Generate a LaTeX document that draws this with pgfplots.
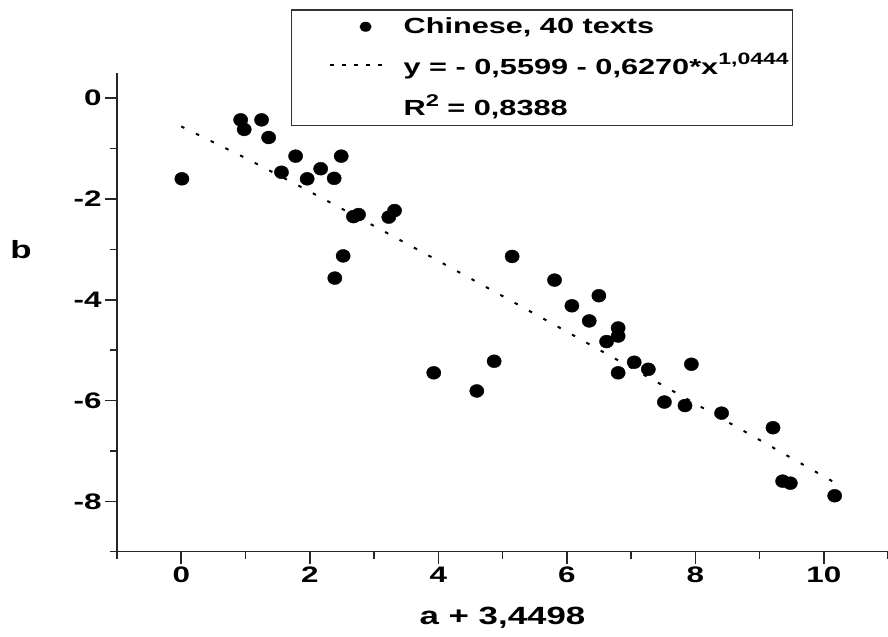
\documentclass[border=0pt]{standalone}
\usepackage{fontspec}
\setmainfont{Liberation Sans}[FakeStretch=1.4]
\usepackage{pgfplots}
\pgfplotsset{compat=1.18}
\begin{document}
\begin{tikzpicture}
\begin{axis}[
  scale only axis, width=771bp, height=478.7bp,
  xmin=-1, xmax=11, ymin=-9, ymax=0.5,
  clip=false,
  axis x line*=bottom, axis y line*=left,
  axis line style={line width=1.5bp, black!85},
  xtick={0,2,...,10}, ytick={-8,-6,...,0},
  minor xtick={-1,1,3,5,7,9,11}, minor ytick={-9,-7,-5,-3,-1},
  tick align=outside,
  major tick length=12bp, minor tick length=7bp,
  every tick/.style={line width=1.5bp, black!85},
  /pgf/number format/assume math mode=true,
  tick label style={font=\bfseries\fontsize{22.5}{26}\selectfont},
  every axis x label/.style={at={(rel axis cs:0.5,0)}, anchor=center, yshift=-66bp},
  every axis y label/.style={at={(rel axis cs:0,0.6316)}, anchor=center, xshift=-96bp},
  label style={font=\bfseries\fontsize{25}{29}\selectfont},
  xlabel={a + 3,4498}, ylabel={b},
  legend cell align=left,
  legend style={font=\bfseries\fontsize{22}{26}\selectfont, draw=black!80, line width=1.2bp,
    at={(0.2257,1.1327)}, anchor=north west, inner xsep=2bp, inner ysep=6bp, row sep=14bp},
]
\addplot[only marks, mark=*, mark size=6.5pt, mark options={xscale=1.1, fill=black, draw=black},
  legend image code/.code={\path[draw=none] (0,0) -- (3.81cm,0); \fill[black, draw=none] (2.54cm,0) ellipse [x radius=6bp, y radius=5bp];}]
coordinates {
(0.01,-1.60) (0.925,-0.43) (0.98,-0.62) (1.25,-0.43) (1.36,-0.78)
(1.78,-1.15) (1.56,-1.47) (1.96,-1.60) (2.17,-1.40) (2.49,-1.15)
(2.38,-1.59) (2.68,-2.35) (2.76,-2.31) (3.32,-2.23) (3.23,-2.36)
(2.52,-3.13) (2.39,-3.57) (5.15,-3.14) (5.81,-3.61) (6.50,-3.92)
(6.08,-4.12) (6.35,-4.42) (6.80,-4.56) (6.80,-4.72) (6.62,-4.83)
(7.05,-5.24) (7.27,-5.38) (6.80,-5.45) (7.94,-5.28) (4.87,-5.22)
(3.93,-5.45) (4.60,-5.81) (7.52,-6.03) (7.84,-6.10) (8.41,-6.25)
(9.21,-6.54) (9.36,-7.60) (9.48,-7.64) (10.17,-7.89)
};
\addlegendentry{Chinese, 40 texts}
\addplot[no marks, black, line width=2bp, dash pattern=on 3.5bp off 12.9bp,
  legend image code/.code={\path[draw=none] (0,0) -- (3.81cm,0); \draw[black, line width=2bp, dash pattern=on 3.5bp off 8.5bp] (1.3cm,0) -- (3.25cm,0);}]
coordinates {
(0,-0.5599) (1,-1.1869) (2,-1.853) (3,-2.535) (4,-3.227) (5,-3.927)
(6,-4.633) (7,-5.345) (8,-6.061) (9,-6.782) (10,-7.505) (10.17,-7.628)
};
\addlegendentry{y = - 0,5599 - 0,6270*x\raisebox{0.45em}{\fontsize{16.5}{19}\selectfont 1,0444}}
\addlegendimage{empty legend}
\addlegendentry{R\raisebox{0.45em}{\fontsize{17}{19}\selectfont 2} = 0,8388}
\end{axis}
\pgfresetboundingbox
\useasboundingbox (-117bp,-85.3bp) rectangle (771bp,551.7bp);
\end{tikzpicture}
\end{document}
